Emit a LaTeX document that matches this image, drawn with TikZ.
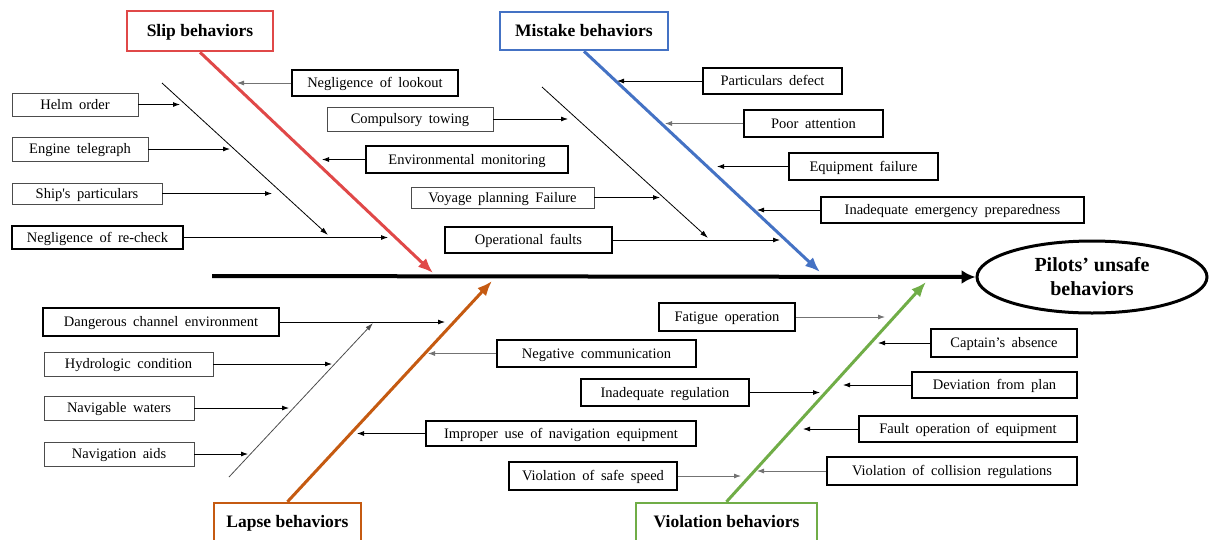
\documentclass[tikz,border=0pt]{standalone}
\usepackage{fontspec}
\setmainfont{Liberation Serif}
\usetikzlibrary{arrows.meta,shapes.geometric}
\definecolor{slipred}{HTML}{E04848}
\definecolor{mistakeblue}{HTML}{4472C4}
\definecolor{lapseorange}{HTML}{C55A11}
\definecolor{violgreen}{HTML}{70AD47}

% wider word gaps inside the cause boxes
\newcommand{\widegaps}{\spaceskip=0.45em plus 0.1em\relax}

% cause box given by its corners: [style]{name}{x1}{y1}{x2}{y2}{text}
\newcommand{\causebox}[7][thickbox]{%
  \node[#1, minimum width={(#5-#3)*1pt}, minimum height={(#6-#4)*1pt}]
    (#2) at ({(#3+#5)/2},{(#4+#6)/2}) {\widegaps #7};}
% horizontal cause arrow from a box side to a given x
\newcommand{\causearrow}[4][arr]{%
  \coordinate (#2-tip) at (#4,0);
  \draw[#1] (#2.#3) -- (#2.#3 -| #2-tip);}

\tikzset{
  box/.style={draw, inner sep=0pt, text height=11pt, text depth=2pt,
    font=\fontsize{14.5}{16}\selectfont},
  thinbox/.style={box, line width=0.8pt, draw=black!70},
  thickbox/.style={box, line width=1.5pt},
  headbox/.style={draw, line width=2.5pt, inner sep=0pt,
    text height=14pt, text depth=2.5pt,
    font=\bfseries\fontsize{17.5}{20}\selectfont},
  arr/.style={line width=0.8pt, -{Latex[length=7pt,width=5pt]}},
  grayarr/.style={arr, draw=black!55, -{Latex[length=7pt,width=5pt,fill=black!55]}},
  subbone/.style={line width=0.8pt, -{Latex[length=8pt,width=5pt]}},
  bone/.style={line width=3pt, -{Latex[length=15pt,width=12pt]}},
  spine/.style={line width=4pt, -{Latex[length=14pt,width=14pt]}},
}

\begin{document}
\begin{tikzpicture}[x=1pt,y=-1pt]
\useasboundingbox (0,0) rectangle (1210,539);
\clip (0,0) rectangle (1210,539);

% effect
\node[ellipse, draw, line width=3pt, minimum width=230pt, minimum height=72pt,
      inner sep=0pt, align=center, font=\bfseries\fontsize{20}{24}\selectfont]
  (head) at (1092,277) {Pilots’ unsafe\\behaviors};
\coordinate (tail) at (212,276);
\draw[spine] (tail) -- (head.west);

% category boxes
\node[headbox, draw=slipred, minimum width=146pt, minimum height=40pt]
  (slip) at (200,31) {Slip behaviors};
\node[headbox, draw=mistakeblue, minimum width=168pt, minimum height=38pt]
  (mistake) at (584,31) {Mistake behaviors};
\node[headbox, draw=lapseorange, minimum width=147pt, minimum height=38pt]
  (lapse) at (287.5,522) {Lapse behaviors};
\node[headbox, draw=violgreen, minimum width=181pt, minimum height=38pt]
  (violation) at (726.5,522) {Violation behaviors};

% main bones
\coordinate (slipTip) at (433,273);
\coordinate (mistakeTip) at (820,272);
\coordinate (lapseTip) at (492,281);
\coordinate (violTip) at (926,282);
\draw[bone, slipred] (slip.south) -- (slipTip);
\draw[bone, mistakeblue] (mistake.south) -- (mistakeTip);
\draw[bone, lapseorange] (lapse.north) -- (lapseTip);
\draw[bone, violgreen] (violation.north) -- (violTip);

% secondary bones
\coordinate (slipSubA) at (162,83);   \coordinate (slipSubB) at (328,235);
\coordinate (misSubA) at (542,87);    \coordinate (misSubB) at (708,238);
\coordinate (lapSubA) at (229,477);   \coordinate (lapSubB) at (373,323);
\draw[subbone] (slipSubA) -- (slipSubB);
\draw[subbone] (misSubA) -- (misSubB);
\draw[subbone, draw=black!70] (lapSubA) -- (lapSubB);

% slip causes
\causebox[thinbox]{helm}{12}{93}{138}{116}{Helm order}
\causearrow{helm}{east}{180}
\causebox[thinbox]{engine}{12}{137}{148}{161}{Engine telegraph}
\causearrow{engine}{east}{230}
\causebox[thinbox]{shipp}{12}{183}{162}{204}{Ship\textquotesingle s particulars}
\causearrow{shipp}{east}{272}
\causebox{recheck}{12}{226}{183}{249}{Negligence of re-check}
\causearrow{recheck}{east}{388}
\causebox{lookout}{292}{70}{458}{96}{Negligence of lookout}
\causearrow[grayarr]{lookout}{west}{237}
\causebox{envmon}{366}{146}{568}{173}{Environmental monitoring}
\causearrow{envmon}{west}{322}

% mistake causes
\causebox[thinbox]{towing}{327}{107}{493}{131}{Compulsory towing}
\causearrow{towing}{east}{568}
\causebox[thinbox]{voyage}{411}{187}{594}{208}{Voyage planning Failure}
\causearrow{voyage}{east}{660}
\causebox{opfault}{445}{227}{612}{253}{Operational faults}
\causearrow{opfault}{east}{780}
\causebox{partdef}{703}{68}{842}{94}{Particulars defect}
\causearrow{partdef}{west}{617}
\causebox{poorat}{744}{110}{883}{137}{Poor attention}
\causearrow[grayarr]{poorat}{west}{665}
\causebox{equip}{789}{153}{938}{180}{Equipment failure}
\causearrow{equip}{west}{717}
\causebox{emerg}{821}{197}{1084}{223}{Inadequate emergency preparedness}
\causearrow{emerg}{west}{757}

% lapse causes
\causebox{danger}{43}{308}{279}{336}{Dangerous channel environment}
\causearrow{danger}{east}{445}
\causebox[thinbox]{hydro}{44}{352}{213}{376}{Hydrologic condition}
\causearrow{hydro}{east}{332}
\causebox[thinbox]{navwater}{44}{396}{194}{420}{Navigable waters}
\causearrow{navwater}{east}{289}
\causebox[thinbox]{navaids}{44}{442}{194}{466}{Navigation aids}
\causearrow{navaids}{east}{248}
\causebox{negcomm}{497}{340}{696}{367}{Negative communication}
\causearrow[grayarr]{negcomm}{west}{428}
\causebox{improper}{426}{421}{696}{446}{Improper use of navigation equipment}
\causearrow{improper}{west}{357}

% violation causes
\causebox{fatigue}{659}{303}{795}{331}{Fatigue operation}
\causearrow[grayarr]{fatigue}{east}{885}
\causebox{inadreg}{581}{379}{749}{406}{Inadequate regulation}
\causearrow{inadreg}{east}{820}
\causebox{safespeed}{509}{462}{677}{490}{Violation of safe speed}
\causearrow[grayarr]{safespeed}{east}{741}
\causebox{captain}{931}{329}{1077}{357}{Captain’s absence}
\causearrow{captain}{west}{878}
\causebox{deviation}{912}{372}{1077}{398}{Deviation from plan}
\causearrow{deviation}{west}{843}
\causebox{faultop}{859}{416}{1077}{442}{Fault operation of equipment}
\causearrow{faultop}{west}{803}
\causebox{collision}{827}{457}{1077}{485}{Violation of collision regulations}
\causearrow[grayarr]{collision}{west}{757}
\end{tikzpicture}
\end{document}
